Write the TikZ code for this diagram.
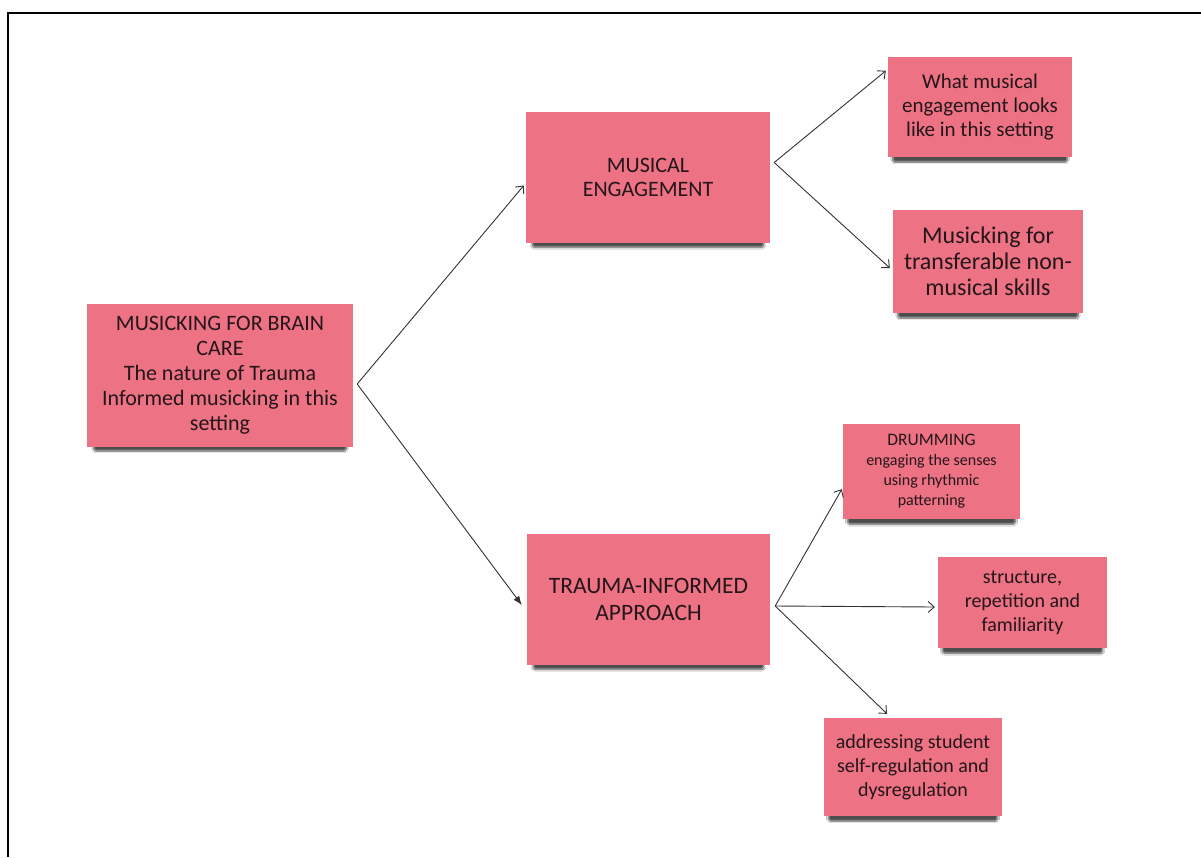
\documentclass[tikz,border=0pt]{standalone}
\usepackage{fontspec}
\setmainfont{Carlito}
\usetikzlibrary{arrows.meta,shadows.blur}
\definecolor{notepink}{HTML}{EC7284}
\definecolor{notetext}{HTML}{24161A}
\definecolor{linkgrey}{HTML}{333333}
\newcommand{\fs}[2]{\fontsize{#1}{#2}\selectfont}
\tikzset{
  note/.style={fill=notepink, draw=none, align=center, text=notetext,
    inner sep=2pt,
    blur shadow={shadow xshift=0pt, shadow yshift=-8pt, shadow opacity=70,
      shadow blur steps=10, shadow blur extra rounding=2pt, shadow scale=0.95}},
  link/.style={draw=linkgrey, line width=0.9pt, -{Straight Barb[length=6pt,width=11pt]}},
  bold link/.style={draw=linkgrey, line width=0.9pt, -{Latex[length=9pt,width=7pt]}},
  frameline/.style={draw=black, line width=2pt}
}
\begin{document}
\begin{tikzpicture}[x=1pt,y=-1pt]
  \useasboundingbox (0,0) rectangle (1201,857);
  \fill[white] (0,0) rectangle (1201,857);
  % outer frame (top and left edges)
  \draw[frameline] (8,857) -- (8,13) -- (1201,13);

  % sticky notes
  \node[note, minimum width=266pt, minimum height=143pt, font=\fs{22}{25}] (root) at (220,375.5)
    {MUSICKING FOR BRAIN\\CARE\\The nature of Trauma\\Informed musicking in this\\setting};
  \node[note, minimum width=244pt, minimum height=131pt, font=\fs{22}{24}] (me) at (648,177.5)
    {MUSICAL\\ENGAGEMENT};
  \node[note, minimum width=243pt, minimum height=131pt, font=\fs{23.5}{27}] (tia) at (648.5,599.5)
    {TRAUMA-INFORMED\\APPROACH};
  \node[note, minimum width=184pt, minimum height=100pt, font=\fs{21}{24}] (what) at (980,107)
    {What musical\\engagement looks\\like in this setting};
  \node[note, minimum width=190pt, minimum height=103pt, font=\fs{24}{26}] (trans) at (988,261.5)
    {Musicking for\\transferable non-\\musical skills};
  \node[note, minimum width=177pt, minimum height=95pt, font=\fs{16}{20}] (drum) at (931.5,471.5)
    {\fs{17.5}{20}DRUMMING\\engaging the senses\\using rhythmic\\patterning};
  \node[note, minimum width=169pt, minimum height=91pt, font=\fs{20}{24}] (struct) at (1022.5,602.5)
    {structure,\\repetition and\\familiarity};
  \node[note, minimum width=178pt, minimum height=98pt, font=\fs{20}{24}] (addr) at (913,767)
    {addressing student\\self-regulation and\\dysregulation};

  % branching points
  \coordinate (rootfork) at ([xshift=4pt,yshift=-8.5pt]root.east);
  \coordinate (mefork) at ([xshift=4pt,yshift=15pt]me.east);
  \coordinate (tiafork) at ([xshift=5pt,yshift=-6.5pt]tia.east);

  % connectors
  \draw[link] (rootfork) -- ([xshift=-2pt,yshift=-8pt]me.west);
  \draw[bold link] (rootfork) -- ([xshift=-5pt,yshift=-5.5pt]tia.west);
  \draw[link] (mefork) -- ([xshift=-2pt,yshift=-14pt]what.north west);
  \draw[link] (mefork) -- ([xshift=-3pt,yshift=-6.5pt]trans.west);
  \draw[link] (tiafork) -- ([xshift=-1pt,yshift=30pt]drum.south west);
  \draw[link] (tiafork) -- ([xshift=-3pt,yshift=-4.5pt]struct.west);
  \draw[link] (tiafork) -- ([xshift=-26pt,yshift=4pt]addr.north);
\end{tikzpicture}
\end{document}
